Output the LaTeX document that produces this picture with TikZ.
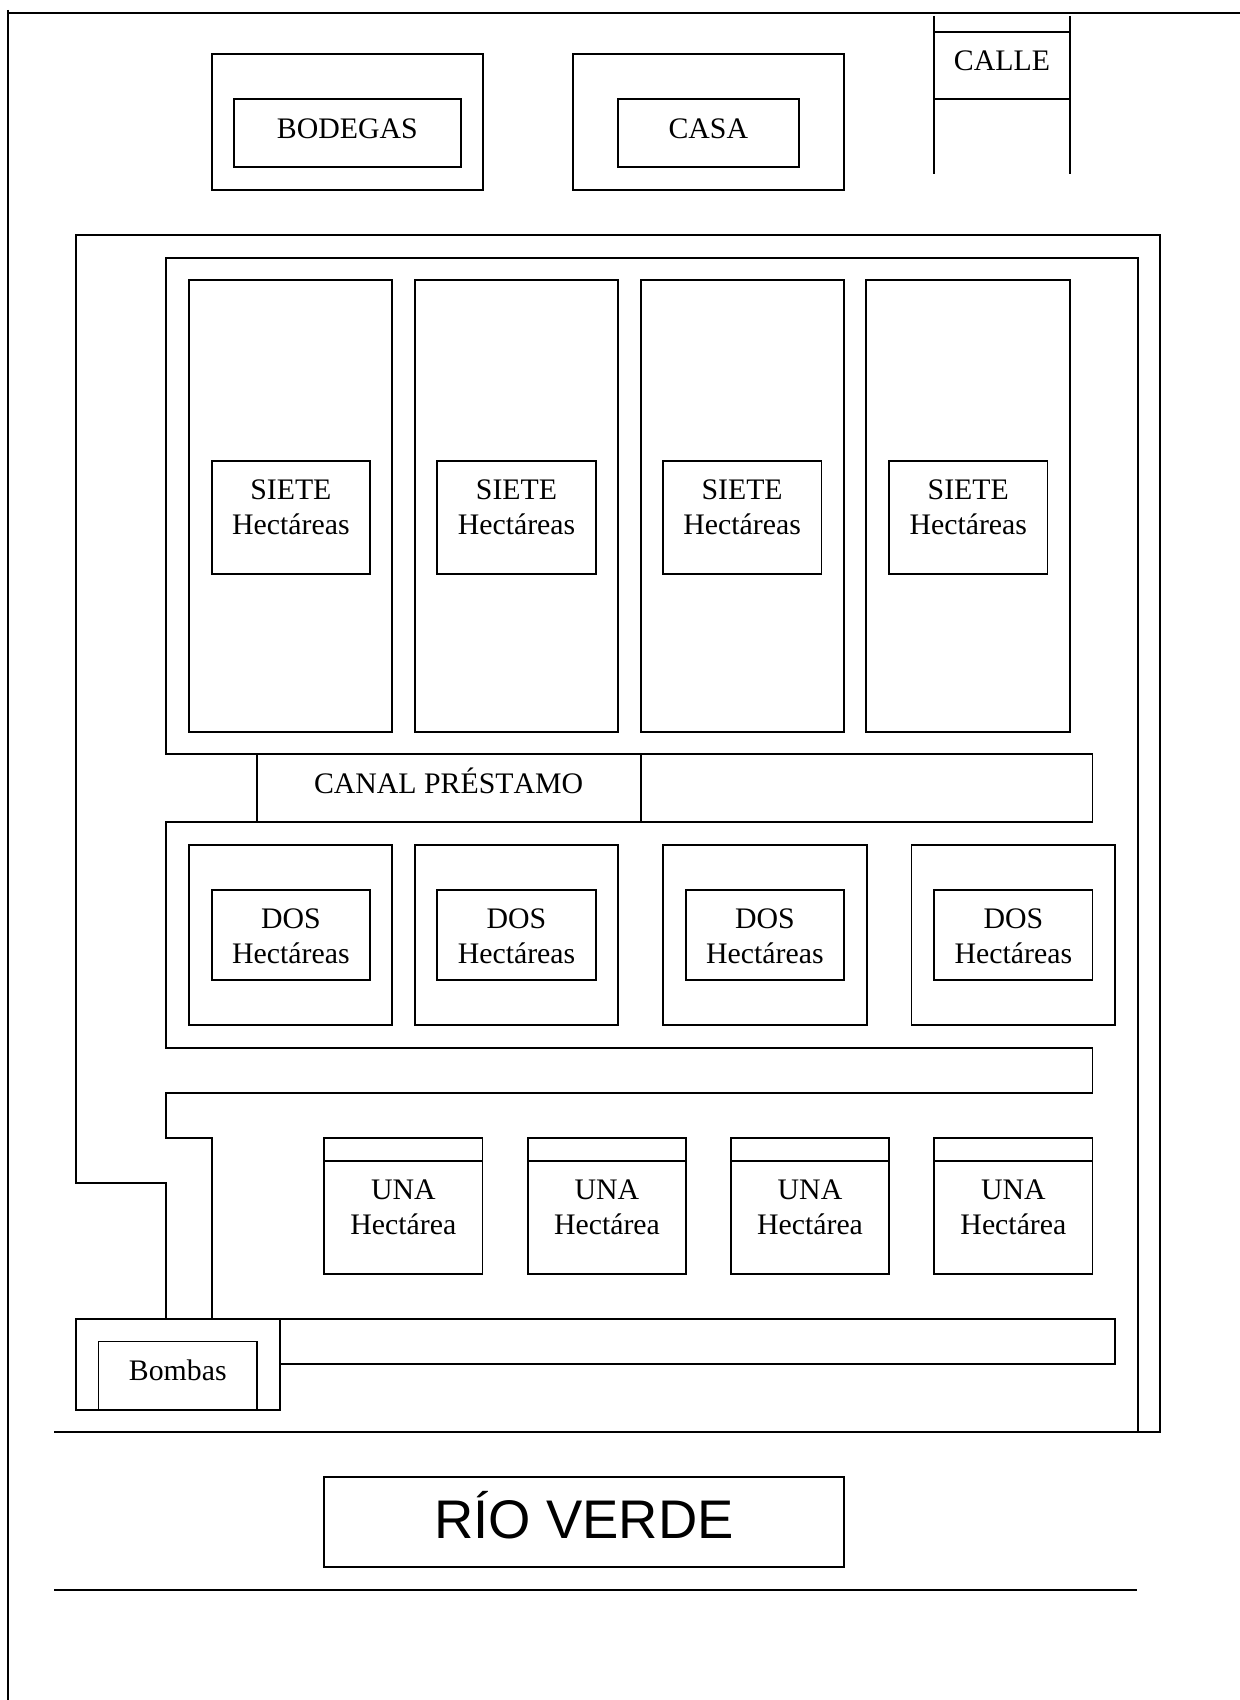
\documentclass[tikz,border=0pt]{standalone}
\usepackage{fontspec}
\setmainfont[Kerning=Off]{Liberation Serif}
\newfontfamily\riofont[Kerning=Off]{Liberation Sans}
\tikzset{
  x=0.5pt,y=-0.5pt,
  line/.style={draw=black,line width=0.9pt,line join=miter},
  plotbox/.style={line,rectangle,inner sep=0pt,outer sep=0pt,anchor=north west,font=\fontsize{14.9}{17.5}\selectfont},
  riobox/.style={plotbox,font=\riofont\fontsize{27.2}{30}\selectfont}
}
\newlength{\plotw}\newlength{\ploth}
% name, style, x1, y1, x2, y2, baseline offset, text
\newcommand{\landbox}[8]{%
  \pgfmathsetlength{\plotw}{(#5-#3)*0.5pt}%
  \pgfmathsetlength{\ploth}{(#6-#4)*0.5pt}%
  \pgfmathsetmacro{\plotb}{#7*0.5}%
  \node[#2] (#1) at (#3,#4) {\parbox[c][\ploth][t]{\plotw}{\centering\rule{0pt}{\plotb pt}#8}};%
}
\begin{document}
\begin{tikzpicture}
\useasboundingbox (0,0) rectangle (1240,1700);
% page border
\draw[line] (8.3,10) -- (8.3,1700);
\draw[line] (8.3,12.7) -- (1240,12.7);
% top buildings
\landbox{bodegasO}{plotbox}{212}{54.3}{482.8}{190}{0}{}
\landbox{bodegas}{plotbox}{234}{99.3}{460.6}{167.3}{39.5}{BODEGAS}
\landbox{casaO}{plotbox}{572.6}{54.3}{844.2}{190}{0}{}
\landbox{casa}{plotbox}{617.6}{99.3}{799}{167.3}{39.5}{CASA}
\landbox{calle}{plotbox}{934.3}{32}{1069.6}{99.3}{38.8}{CALLE}
\draw[line] (934.3,16) -- (934.3,174);
\draw[line] (1069.6,16) -- (1069.6,174);
% frame
\draw[line] (166,1319) -- (166,1183.3) -- (76,1183.3) -- (76,235) -- (1160,235) -- (1160,1431.7) -- (54,1431.7);
\draw[line] (1137.6,1431.7) -- (1137.6,257.7) -- (166,257.7) -- (166,754) -- (256.6,754);
% SIETE
\foreach \n/\a/\b/\c/\d in {1/189/392/212/369.7,2/415/618/437/596,3/640.6/843.8/662.7/821.5,4/866.3/1069.6/889/1047.5}{
  \landbox{sieteO\n}{plotbox}{\a}{280.3}{\b}{731.7}{0}{}
  \landbox{siete\n}{plotbox}{\c}{460.7}{\d}{574}{39}{SIETE\\Hectáreas}
}
% canal
\landbox{canal}{plotbox}{256.6}{754}{640.6}{822.3}{39.5}{CANAL PRÉSTAMO}
\draw[line] (canal.north east) -- (1092.5,754) -- (1092.5,822.3) -- (canal.south east);
\draw[line] (canal.south west) -- (166,822.3) -- (166,1047.7) -- (1092.5,1047.7) -- (1092.5,1093.3) -- (166,1093.3) -- (166,1138.3) -- (212,1138.3) -- (212,1319);
% DOS
\foreach \n/\a/\b/\c/\d in {1/189/392/212/369.7,2/415/618/437/596,3/662.7/866.7/685.6/844.2,4/911.4/1114.7/934.3/1092.5}{
  \landbox{dosO\n}{plotbox}{\a}{845}{\b}{1025}{0}{}
  \landbox{dos\n}{plotbox}{\c}{889.7}{\d}{980.3}{38.8}{DOS\\Hectáreas}
}
% UNA
\foreach \n/\a/\b in {1/324.2/482.4,2/527.9/686,3/730.7/889.3,4/934.3/1092.5}{
  \landbox{unaT\n}{plotbox}{\a}{1138.3}{\b}{1161}{0}{}
  \landbox{una\n}{plotbox}{\a}{1161}{\b}{1273.7}{38.5}{UNA\\Hectárea}
}
% pumps
\landbox{bombasO}{plotbox}{76}{1319}{279.6}{1409.7}{0}{}
\landbox{bombas}{plotbox}{98.5}{1341.5}{257}{1409.7}{38.5}{Bombas}
\draw[line] (bombasO.north east) -- (1114.7,1319) -- (1114.7,1364) -- (279.6,1364);
% river
\landbox{rio}{riobox}{324.3}{1476.7}{844}{1567}{62}{RÍO VERDE}
\draw[line] (54,1590) -- (1137,1590);
\end{tikzpicture}
\end{document}
